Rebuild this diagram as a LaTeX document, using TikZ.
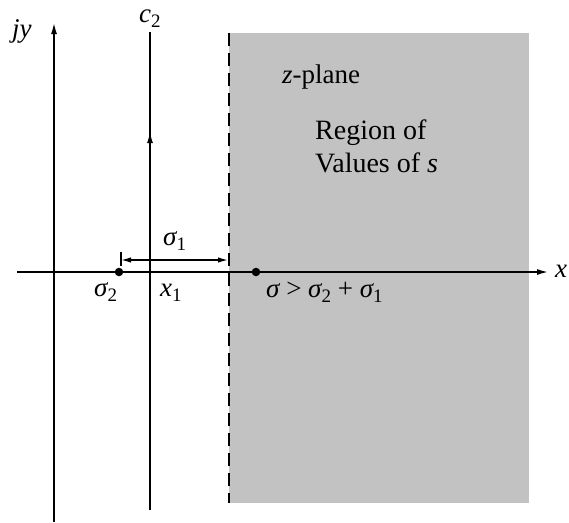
\documentclass[tikz,border=0pt]{standalone}
\usepackage{fontspec}
\setmainfont{Liberation Serif}
\usetikzlibrary{arrows.meta}
\newcommand\lo[1]{\raisebox{-0.22em}{\fontsize{19}{19}\selectfont\upshape #1}}
\begin{document}
\begin{tikzpicture}[x=1pt,y=-1pt,
  lbl/.style={inner sep=0pt, font=\fontsize{27}{32}\selectfont},
  ax/.style={line width=1.4pt},
  tip/.style={-{Latex[length=11pt,width=6pt]}},
  dot/.style={circle, fill=black, inner sep=0pt, minimum size=8.5pt}]
\useasboundingbox (0,0) rectangle (569,522);
% shaded region
\fill[black!24] (229,33) rectangle (529,503);
\coordinate (dt) at (229,33);
\coordinate (db) at (229,503);
\draw[ax, dash pattern=on 13pt off 7pt] (dt) -- (db);
% jy axis
\coordinate (jyb) at (54,522);
\coordinate (jyt) at (54,23);
\draw[ax,tip] (jyb) -- (jyt);
% x axis
\coordinate (xl) at (17,272);
\coordinate (xr) at (548,272);
\draw[ax,tip] (xl) -- (xr);
% contour c2
\coordinate (cb) at (150,510);
\coordinate (cm) at (150,132);
\coordinate (ct) at (150,32);
\draw[ax] (cb) -- (ct);
\draw[ax,tip] (cb) -- (cm);
% dots
\node[dot] (s2) at (119,272) {};
\node[dot] (s) at (256,272) {};
% sigma1 bracket
\coordinate (bt) at (121,252);
\coordinate (bb) at (121,266);
\draw[ax] (bt) -- (bb);
\coordinate (al) at (121,260);
\coordinate (ar) at (228,260);
\draw[ax,{Latex[length=10pt,width=5.5pt]}-{Latex[length=10pt,width=5.5pt]}] (al) -- (ar);
% labels
\node[lbl, anchor=base west] (ljy) at (12,37) {\itshape jy};
\node[lbl, anchor=base west] (lc2) at (139,22) {\itshape c\lo{2}};
\node[lbl, anchor=base west] (ls1) at (163,245) {\itshape σ\lo{1}};
\node[lbl, anchor=base west] (ls2) at (94,296) {\itshape σ\lo{2}};
\node[lbl, anchor=base west] (lx1) at (160,296) {\itshape x\lo{1}};
\node[lbl, anchor=base west] (lcond) at (266,297) {\itshape σ\ \upshape>\ \itshape σ\lo{2}\ \upshape+\ \itshape σ\lo{1}};
\node[lbl, anchor=base west] (lx) at (555,277) {\itshape x};
\node[lbl, anchor=base west] (lz) at (282,83) {\itshape z\upshape-plane};
\node[lbl, anchor=base west, align=left, font=\fontsize{28}{33}\selectfont] (lreg) at (315,172) {Region of\\Values of \itshape s};
\end{tikzpicture}
\end{document}
